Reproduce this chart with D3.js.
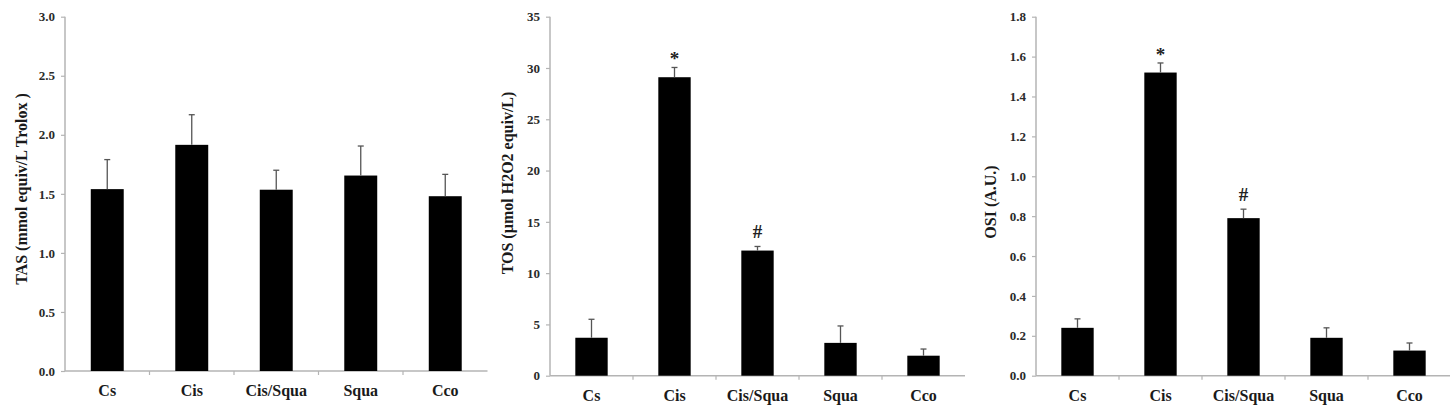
<!DOCTYPE html>
<html>
<head>
<meta charset="utf-8">
<script src="https://cdn.jsdelivr.net/npm/d3@7"></script>
<style>
  html, body { margin: 0; padding: 0; background: #fff; }
  svg { display: block; }
  text { font-family: "Liberation Serif", "Times New Roman", serif; font-weight: bold; }
</style>
</head>
<body>
<svg id="chart" width="1450" height="407"></svg>
<script>
const categories = ["Cs", "Cis", "Cis/Squa", "Squa", "Cco"];

const tasValues = [1.54, 1.915, 1.535, 1.655, 1.48];
const tasErrors = [0.25, 0.255, 0.165, 0.25, 0.185];
const tasTicks  = [0, 0.5, 1.0, 1.5, 2.0, 2.5, 3.0];
const tasMarks  = ["", "", "", "", ""];

const tosValues = [3.7, 29.1, 12.2, 3.2, 1.95];
const tosErrors = [1.8, 0.95, 0.4, 1.65, 0.65];
const tosTicks  = [0, 5, 10, 15, 20, 25, 30, 35];
const tosMarks  = ["", "*", "#", "", ""];

const osiValues = [0.24, 1.52, 0.79, 0.19, 0.126];
const osiErrors = [0.045, 0.048, 0.045, 0.05, 0.038];
const osiTicks  = [0, 0.2, 0.4, 0.6, 0.8, 1.0, 1.2, 1.4, 1.6, 1.8];
const osiMarks  = ["", "*", "#", "", ""];

const panels = [
  { title: "TAS (mmol equiv/L Trolox )", values: tasValues, errors: tasErrors, ticks: tasTicks, marks: tasMarks, fmt: d3.format(".1f"),
    x0: 65, x1: 487.5, yTop: 16.7, yBottom: 371, titleX: 21, titleY: 189 },
  { title: "TOS (µmol H2O2 equiv/L)", values: tosValues, errors: tosErrors, ticks: tosTicks, marks: tosMarks, fmt: d3.format("d"),
    x0: 550, x1: 965, yTop: 16.7, yBottom: 375.7, titleX: 507, titleY: 183 },
  { title: "OSI (A.U.)", values: osiValues, errors: osiErrors, ticks: osiTicks, marks: osiMarks, fmt: d3.format(".1f"),
    x0: 1036, x1: 1451, yTop: 16.7, yBottom: 375.7, titleX: 990, titleY: 202 }
];

const svg = d3.select("#chart");
const axisColor = "#b4b4b4";

panels.forEach(p => {
  const yMax = p.ticks[p.ticks.length - 1];
  const x = d3.scaleBand().domain(categories).range([p.x0, p.x1]).padding(0);
  const y = d3.scaleLinear().domain([0, yMax]).range([p.yBottom, p.yTop]);
  const g = svg.append("g");
  const barW = x.bandwidth() * 0.39;

  // y axis
  const yAxis = g.append("g").attr("transform", `translate(${p.x0},0)`)
    .call(d3.axisLeft(y).tickValues(p.ticks).tickFormat(p.fmt).tickSize(4).tickPadding(6));
  yAxis.select(".domain").attr("stroke", axisColor).attr("stroke-width", 1.5).attr("d", `M0,${p.yTop}V${p.yBottom}`);
  yAxis.selectAll(".tick line").attr("stroke", axisColor).attr("stroke-width", 1.2);
  yAxis.selectAll(".tick text").attr("fill", "#2a2a2a").style("font-size", "13px").style("font-family", '"Liberation Serif", serif').style("font-weight", "bold");

  // x axis
  const xAxis = g.append("g").attr("transform", `translate(0,${p.yBottom})`);
  xAxis.append("line").attr("x1", p.x0).attr("x2", p.x1).attr("y1", 0).attr("y2", 0)
    .attr("stroke", axisColor).attr("stroke-width", 1.5);
  xAxis.selectAll("line.sep").data(categories.slice(1)).enter().append("line").attr("class", "sep")
    .attr("x1", d => x(d)).attr("x2", d => x(d)).attr("y1", 0).attr("y2", 4)
    .attr("stroke", axisColor).attr("stroke-width", 1.2);
  xAxis.selectAll("text").data(categories).enter().append("text")
    .attr("x", d => x(d) + x.bandwidth() / 2).attr("y", 25)
    .attr("text-anchor", "middle").attr("fill", "#1a1a1a").style("font-size", "16px")
    .text(d => d);

  // bars
  g.selectAll("rect.bar").data(categories).enter().append("rect").attr("class", "bar")
    .attr("x", d => x(d) + (x.bandwidth() - barW) / 2)
    .attr("width", barW)
    .attr("y", (d, i) => y(p.values[i]))
    .attr("height", (d, i) => y(0) - y(p.values[i]))
    .attr("fill", "#000");

  // error bars
  const eb = g.selectAll("g.err").data(categories).enter().append("g").attr("class", "err");
  eb.append("line")
    .attr("x1", d => x(d) + x.bandwidth() / 2).attr("x2", d => x(d) + x.bandwidth() / 2)
    .attr("y1", (d, i) => y(p.values[i])).attr("y2", (d, i) => y(p.values[i] + p.errors[i]))
    .attr("stroke", "#555").attr("stroke-width", 1.3);
  eb.append("line")
    .attr("x1", d => x(d) + x.bandwidth() / 2 - 3).attr("x2", d => x(d) + x.bandwidth() / 2 + 3)
    .attr("y1", (d, i) => y(p.values[i] + p.errors[i])).attr("y2", (d, i) => y(p.values[i] + p.errors[i]))
    .attr("stroke", "#555").attr("stroke-width", 1.3);

  // significance marks
  g.selectAll("text.mark").data(categories).enter().append("text").attr("class", "mark")
    .attr("x", d => x(d) + x.bandwidth() / 2)
    .attr("y", (d, i) => y(p.values[i] + p.errors[i]) - (p.marks[i] === "*" ? 2 : 8))
    .attr("text-anchor", "middle").attr("fill", "#222").style("font-size", "19px")
    .text((d, i) => p.marks[i]);

  // y title
  g.append("text")
    .attr("transform", `translate(${p.titleX},${p.titleY}) rotate(-90)`)
    .attr("text-anchor", "middle").attr("dominant-baseline", "central")
    .attr("fill", "#1a1a1a").style("font-size", "16px")
    .text(p.title);
});
</script>
</body>
</html>
